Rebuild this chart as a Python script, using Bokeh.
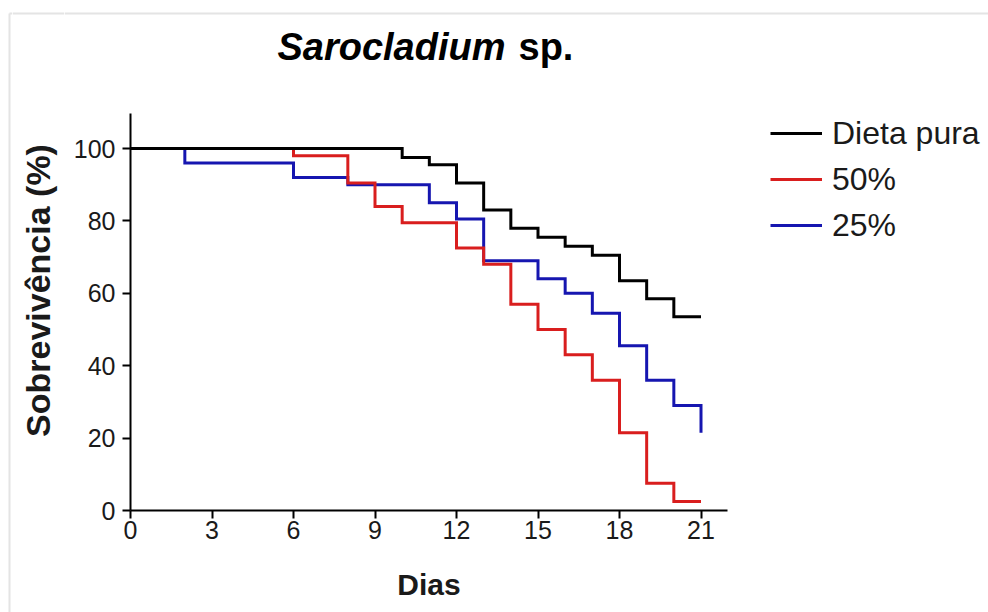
from math import pi

from bokeh.plotting import figure
from bokeh.layouts import column, row
from bokeh.models import Range1d, FixedTicker, Legend, LegendItem
from bokeh.core.properties import value
from bokeh.embed import file_html
from bokeh.resources import INLINE

# Survival curves (% alive) by day for each diet
dieta_pura_dias = [0, 10, 11, 12, 13, 14, 15, 16, 17, 18, 19, 20, 21]
dieta_pura_sobrev = [100, 97.5, 95.5, 90.5, 83, 78, 75.5, 73, 70.5, 63.5, 58.5, 53.5, 53.5]

dose50_dias = [0, 6, 8, 9, 10, 12, 13, 14, 15, 16, 17, 18, 19, 20, 21]
dose50_sobrev = [100, 98, 90.5, 84, 79.5, 72.5, 68, 57, 50, 43, 36, 21.5, 7.5, 2.5, 2.5]

dose25_dias = [0, 2, 6, 8, 11, 12, 13, 15, 16, 17, 18, 19, 20, 21]
dose25_sobrev = [100, 96, 92, 90, 85, 80.5, 69, 64, 60, 54.5, 45.5, 36, 29, 21.5]

series_labels = ["Dieta pura", "50%", "25%"]
x_ticks = [0, 3, 6, 9, 12, 15, 18, 21]
y_ticks = [0, 20, 40, 60, 80, 100]

# Page geometry (pixels from the top-left corner)
W, H = 988, 612
STRIP_R = 12            # band carrying the page's left edge line
YLAB_R = 64             # band holding the vertical axis title
HEADER_H = 113          # band above the plotting frame that holds the title
FRAME_LEFT, FRAME_RIGHT, FRAME_BOTTOM = 130, 727, 510
LEGEND_LEFT = 770
EDGE = "#e4e4e4"
FONT = "Liberation Sans"
INK = "#1a1a1a"

X_END = 21 * (FRAME_RIGHT - FRAME_LEFT) / 570.5
Y_END = 100 * (FRAME_BOTTOM - HEADER_H) / 362.0

BLACK, RED, BLUE = "#000000", "#d91e1e", "#1616b0"
CURVE_W = 3


def up(py):
    """Page row (downwards) -> data y of the page-pixel bands (upwards)."""
    return H - py


def band(x0, x1, y0, y1):
    """Axis-less figure whose data coordinates are page pixels."""
    f = figure(width=x1 - x0, height=y1 - y0,
               x_range=Range1d(x0, x1), y_range=Range1d(up(y1), up(y0)),
               x_axis_type=None, y_axis_type=None,
               output_backend="svg", toolbar_location=None,
               min_border=0, min_border_left=0, min_border_right=0,
               min_border_top=0, min_border_bottom=0,
               outline_line_color=None,
               background_fill_color="white", border_fill_color="white")
    f.xgrid.visible = False
    f.ygrid.visible = False
    return f


# ---- left edge band
strip = band(0, STRIP_R, 0, H)
strip.segment(x0=[9, 9], y0=[up(13), up(13)], x1=[STRIP_R, 9], y1=[up(13), up(H)],
              line_color=EDGE, line_width=2)

# ---- vertical axis title band
ylab = band(STRIP_R, YLAB_R, 0, H)
ylab.segment(x0=[STRIP_R], y0=[up(13)], x1=[YLAB_R], y1=[up(13)],
             line_color=EDGE, line_width=2)
ylab.text(x=[37], y=[up(290)], text=["Sobrevivência (%)"], angle=pi / 2,
          text_align="center", text_baseline="middle",
          text_font=value(FONT), text_font_size="34px", text_font_style="bold",
          text_color=INK)

# ---- header with the title
header = band(YLAB_R, W, 0, HEADER_H)
header.segment(x0=[YLAB_R], y0=[up(13)], x1=[W], y1=[up(13)],
               line_color=EDGE, line_width=2)
header.text(x=[505], y=[up(46)], text=["Sarocladium"], text_align="right",
            text_baseline="alphabetic", text_font=value(FONT),
            text_font_size="38px", text_font_style="bold italic", text_color="black")
header.text(x=[518], y=[up(46)], text=["sp."], text_align="left",
            text_baseline="alphabetic", text_font=value(FONT),
            text_font_size="38px", text_font_style="bold", text_color="black")

# ---- survival chart
p = figure(width=LEGEND_LEFT - YLAB_R, height=H - HEADER_H,
           x_range=Range1d(0, X_END), y_range=Range1d(0, Y_END),
           min_border_left=FRAME_LEFT - YLAB_R, min_border_right=LEGEND_LEFT - FRAME_RIGHT,
           min_border_top=0, min_border_bottom=H - FRAME_BOTTOM,
           output_backend="svg", toolbar_location=None,
           outline_line_color=None,
           background_fill_color="white", border_fill_color="white")

p.xgrid.visible = False
p.ygrid.visible = False

p.xaxis.ticker = FixedTicker(ticks=x_ticks)
p.yaxis.ticker = FixedTicker(ticks=y_ticks)

for ax in (p.xaxis[0], p.yaxis[0]):
    ax.axis_line_width = 2
    ax.axis_line_color = "black"
    ax.major_tick_line_width = 2
    ax.major_tick_line_color = "black"
    ax.major_tick_out = 8
    ax.major_tick_in = 0
    ax.minor_tick_line_color = None
    ax.major_label_text_font = FONT
    ax.major_label_text_font_size = "25px"
    ax.major_label_text_color = INK

p.xaxis.axis_label = "Dias"
p.xaxis.axis_label_text_font = FONT
p.xaxis.axis_label_text_font_size = "30px"
p.xaxis.axis_label_text_font_style = "bold"
p.xaxis.axis_label_text_color = INK
p.xaxis.axis_label_standoff = 26
p.xaxis.major_label_standoff = 2
p.yaxis.major_label_standoff = 7

p.step(dose25_dias, dose25_sobrev, mode="after", line_color=BLUE,
       line_width=CURVE_W, line_join="miter")
p.step(dose50_dias, dose50_sobrev, mode="after", line_color=RED,
       line_width=CURVE_W, line_join="miter")
p.step(dieta_pura_dias, dieta_pura_sobrev, mode="after", line_color=BLACK,
       line_width=CURVE_W, line_join="miter")

# ---- legend band to the right of the chart
key = band(LEGEND_LEFT, W, HEADER_H, H)
nan = float("nan")
key_renderers = [key.line(x=[nan], y=[nan], line_color=c, line_width=CURVE_W)
                 for c in (BLACK, RED, BLUE)]
legend = Legend(
    items=[LegendItem(label=lab, renderers=[r])
           for lab, r in zip(series_labels, key_renderers)],
    location="top_left",
    glyph_width=52, glyph_height=40, label_height=40, spacing=6,
    padding=0, margin=0, label_standoff=10,
    border_line_color=None, background_fill_alpha=0,
    label_text_font=FONT, label_text_font_size="32px",
    label_text_color=INK,
)
key.add_layout(legend)

layout = row(strip, ylab, column(header, row(p, key, spacing=0), spacing=0), spacing=0)

open("out.html", "w").write(file_html(layout, INLINE))
